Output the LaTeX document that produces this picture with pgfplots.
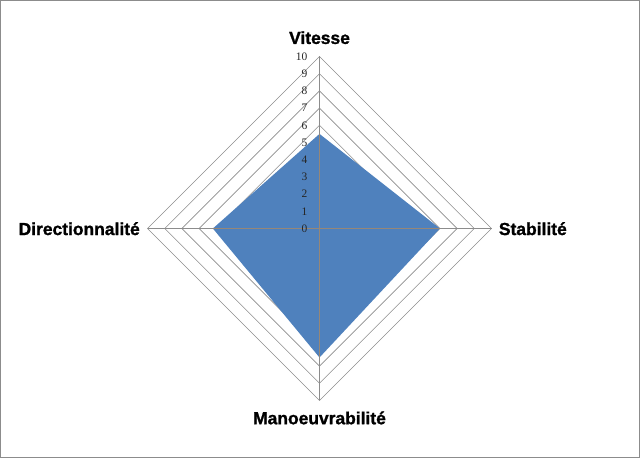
\documentclass[border=0pt]{standalone}
\usepackage{fontspec}
\setmainfont{Liberation Serif}
\newfontfamily\labfont[BoldFeatures={FakeBold=1.2}]{Liberation Sans}
\usepackage{pgfplots}
\pgfplotsset{compat=1.18}
\definecolor{fillblue}{RGB}{79,129,189}
\definecolor{ringgray}{RGB}{140,140,140}
\definecolor{spoketan}{RGB}{150,135,120}
\begin{document}
\begin{tikzpicture}
\begin{axis}[
  width=639bp, height=457bp, scale only axis,
  xmin=-18.547, xmax=18.605, ymin=-13.314, ymax=13.256,
  xtick=\empty, ytick=\empty,
  axis line style={draw=ringgray, line width=1bp},
  clip=false,
]
% radar grid rings 1..10
\pgfplotsinvokeforeach{1,...,10}{
  \addplot[ringgray, line width=0.6bp, mark=none] coordinates {(0,#1) (#1,0) (0,-#1) (-#1,0)} -- cycle;
}
% spokes
\addplot[ringgray, line width=0.9bp, mark=none] coordinates {(0,-10) (0,10)};
\addplot[ringgray, line width=0.9bp, mark=none] coordinates {(-10,0) (10,0)};
% data: Vitesse, Stabilite, Manoeuvrabilite, Directionnalite
\addplot[fill=fillblue, draw=none, mark=none] coordinates {(0,5.5) (7,0) (0,-7.5) (-6.2,0)} -- cycle;
% spokes over the fill
\addplot[spoketan, line width=0.9bp, mark=none] coordinates {(0,-7.5) (0,5.5)};
\addplot[spoketan, line width=0.9bp, mark=none] coordinates {(-6.2,0) (7,0)};
% value labels
\pgfplotsinvokeforeach{0,...,10}{
  \node[anchor=east, inner sep=0pt, text=black!85, font=\fontsize{11.5}{13}\selectfont] at (axis cs:-0.7,#1) {#1};
}
% category labels
\node[anchor=base, inner sep=0pt, font=\labfont\bfseries\fontsize{17.5}{20}\selectfont] at (axis cs:0,10.73) {Vitesse};
\node[anchor=base west, inner sep=0pt, font=\labfont\bfseries\fontsize{17.5}{20}\selectfont] at (axis cs:10.42,-0.38) {Stabilité};
\node[anchor=base, inner sep=0pt, font=\labfont\bfseries\fontsize{17.5}{20}\selectfont] at (axis cs:0,-11.38) {Manoeuvrabilité};
\node[anchor=base east, inner sep=0pt, font=\labfont\bfseries\fontsize{17.5}{20}\selectfont] at (axis cs:-10.44,-0.38) {Directionnalité};
\end{axis}
\end{tikzpicture}
\end{document}
